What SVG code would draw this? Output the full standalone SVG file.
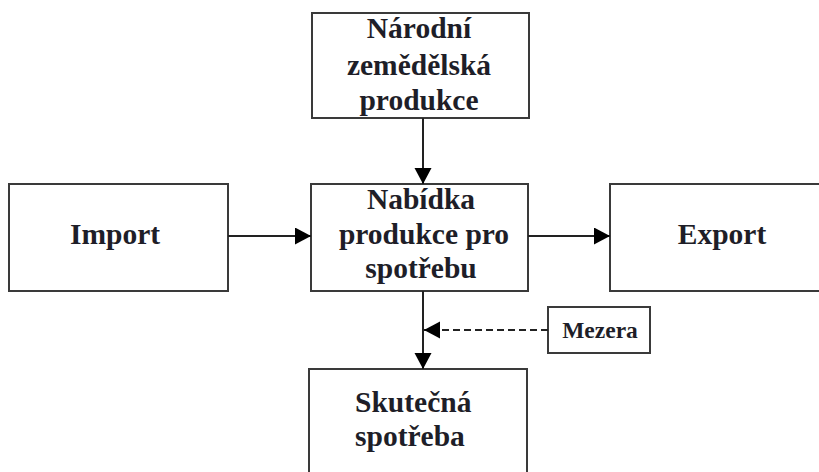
<svg xmlns="http://www.w3.org/2000/svg" width="819" height="472" viewBox="0 0 819 472">
<style>
.box{fill:#fff;stroke:#3a3a3a;stroke-width:2}
.t{font-family:"Liberation Serif","Times New Roman",serif;font-weight:bold;font-size:29.5px;fill:#1e1e28;text-anchor:middle}
.s{font-size:23.5px}
.c{stroke:#222;stroke-width:2;fill:none}
.d{stroke-dasharray:7,4}
</style>
<defs>
<marker id="ah" markerUnits="userSpaceOnUse" markerWidth="18" markerHeight="18" refX="16" refY="8.5" orient="auto">
<path d="M0,0 L16,8.5 L0,17 Z" fill="#000"/>
</marker>
</defs>
<rect width="819" height="472" fill="#fff"/>
<g id="narodni">
<rect class="box" x="312" y="13" width="217" height="105"/>
<text class="t" x="419" y="38">Národní</text>
<text class="t" x="419" y="75">zemědělská</text>
<text class="t" x="419" y="110">produkce</text>
</g>
<g id="import">
<rect class="box" x="9" y="184" width="219" height="107"/>
<text class="t" x="115" y="244">Import</text>
</g>
<g id="nabidka">
<rect class="box" x="311" y="184" width="217" height="107"/>
<text class="t" x="421" y="209">Nabídka</text>
<text class="t" x="424" y="244">produkce pro</text>
<text class="t" x="421" y="278">spotřebu</text>
</g>
<g id="export">
<rect class="box" x="610" y="184" width="230" height="107"/>
<text class="t" x="722" y="244">Export</text>
</g>
<g id="skutecna">
<rect class="box" x="309" y="369" width="218" height="120"/>
<text class="t" x="355" y="412" style="text-anchor:start">Skutečná</text>
<text class="t" x="355" y="446" style="text-anchor:start">spotřeba</text>
</g>
<g id="mezera">
<rect class="box" x="548" y="307" width="102" height="46"/>
<text class="t s" x="600" y="338">Mezera</text>
</g>
<g id="connectors">
<line class="c" x1="423" y1="118" x2="423" y2="184" marker-end="url(#ah)"/>
<line class="c" x1="228" y1="236" x2="311" y2="236" marker-end="url(#ah)"/>
<line class="c" x1="528" y1="236" x2="610" y2="236" marker-end="url(#ah)"/>
<line class="c" x1="423" y1="291" x2="423" y2="369" marker-end="url(#ah)"/>
<line class="c d" x1="548" y1="330" x2="424" y2="330" marker-end="url(#ah)"/>
</g>
</svg>
